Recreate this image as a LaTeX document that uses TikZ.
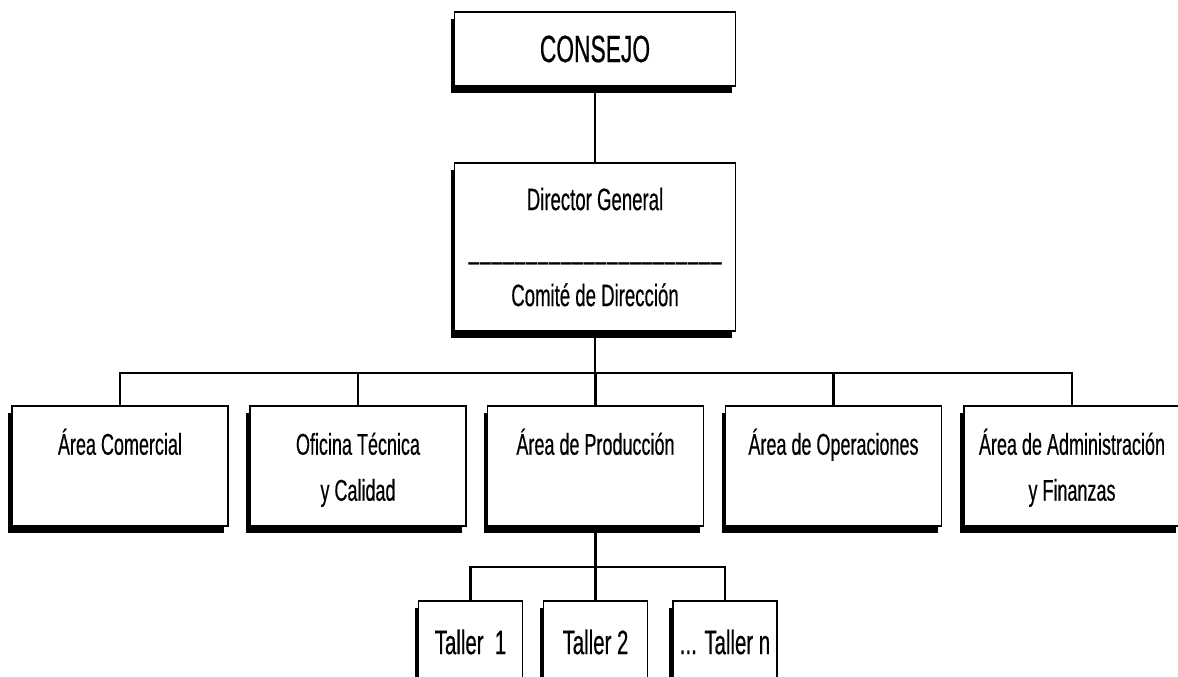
\documentclass[tikz,border=0pt]{standalone}
\usepackage{fontspec}
\setmainfont{Liberation Sans}[FakeStretch=0.6,FakeBold=0.4]
\usetikzlibrary{shadows,positioning}
\newcommand{\guion}{\_\kern0.6pt}

\begin{document}
\begin{tikzpicture}[x=0.5pt,y=-0.5pt,
  caja/.style={draw=black, line width=0.9pt, fill=white, rectangle, inner sep=0pt,
    general shadow={fill=black, shadow xshift=-2pt, shadow yshift=-3.5pt}},
  area/.style={caja, minimum width=108pt, minimum height=60pt},
  taller/.style={caja, minimum width=52pt, minimum height=41pt, font=\fontsize{17}{20}\selectfont},
  texto/.style={anchor=north, inner sep=0pt, align=center, font=\fontsize{15}{23}\selectfont},
  linea/.style={line width=1.1pt}]
  \useasboundingbox (0,0) rectangle (1178,676);
  \clip (0,0) rectangle (1178,676);
  \coordinate (bus) at (595,373);
  \coordinate (busT) at (595.5,567);
  \node [caja, minimum width=140.5pt, minimum height=37pt, font=\fontsize{19}{22}\selectfont] (consejo) at (595,49) {CONSEJO};
  \node [caja, minimum width=140.5pt, minimum height=84pt] (director) at (595,247) {};
  \node [texto, font=\fontsize{15.5}{24}\selectfont, below=7pt of director.north] (tdirector)
    {\strut Director General\\\guion\guion\guion\guion\guion\guion\guion\guion\guion\guion\guion\guion\guion\guion\guion\guion\guion\guion\guion\guion\guion\_\\Comité de Dirección};
  \node [area] (comercial) at (120,466) {};
  \node [area] (oficina) at (358,466) {};
  \node [area] (produccion) at (595.5,466) {};
  \node [area] (operaciones) at (833.5,466) {};
  \node [area] (admin) at (1072,466) {};
  \node [texto, below=8.5pt of comercial.north] (tcomercial) {\strut Área Comercial};
  \node [texto, below=8.5pt of oficina.north] (toficina) {\strut Oficina Técnica\\y Calidad};
  \node [texto, below=8.5pt of produccion.north] (tproduccion) {\strut Área de Producción};
  \node [texto, below=8.5pt of operaciones.north] (toperaciones) {\strut Área de Operaciones};
  \node [texto, below=8.5pt of admin.north] (tadmin) {\strut Área de Administración\\y Finanzas};
  \node [taller] (taller1) at (470.5,642) {Taller\ \ 1};
  \node [taller] (taller2) at (595.5,642) {Taller 2};
  \node [taller] (tallern) at (725,642) {... Taller n};
  \draw [linea] (consejo.south) -- (director.north);
  \draw [linea] (director.south) -- (bus);
  \draw [linea] (comercial.north) |- (bus) -| (admin.north);
  \draw [linea] (oficina.north) -- (oficina.north |- bus);
  \draw [linea] (produccion.north) -- (produccion.north |- bus);
  \draw [linea] (operaciones.north) -- (operaciones.north |- bus);
  \draw [linea] (produccion.south) -- (busT);
  \draw [linea] (taller1.north) |- (busT) -| (tallern.north);
  \draw [linea] (taller2.north) -- (busT);
\end{tikzpicture}
\end{document}
